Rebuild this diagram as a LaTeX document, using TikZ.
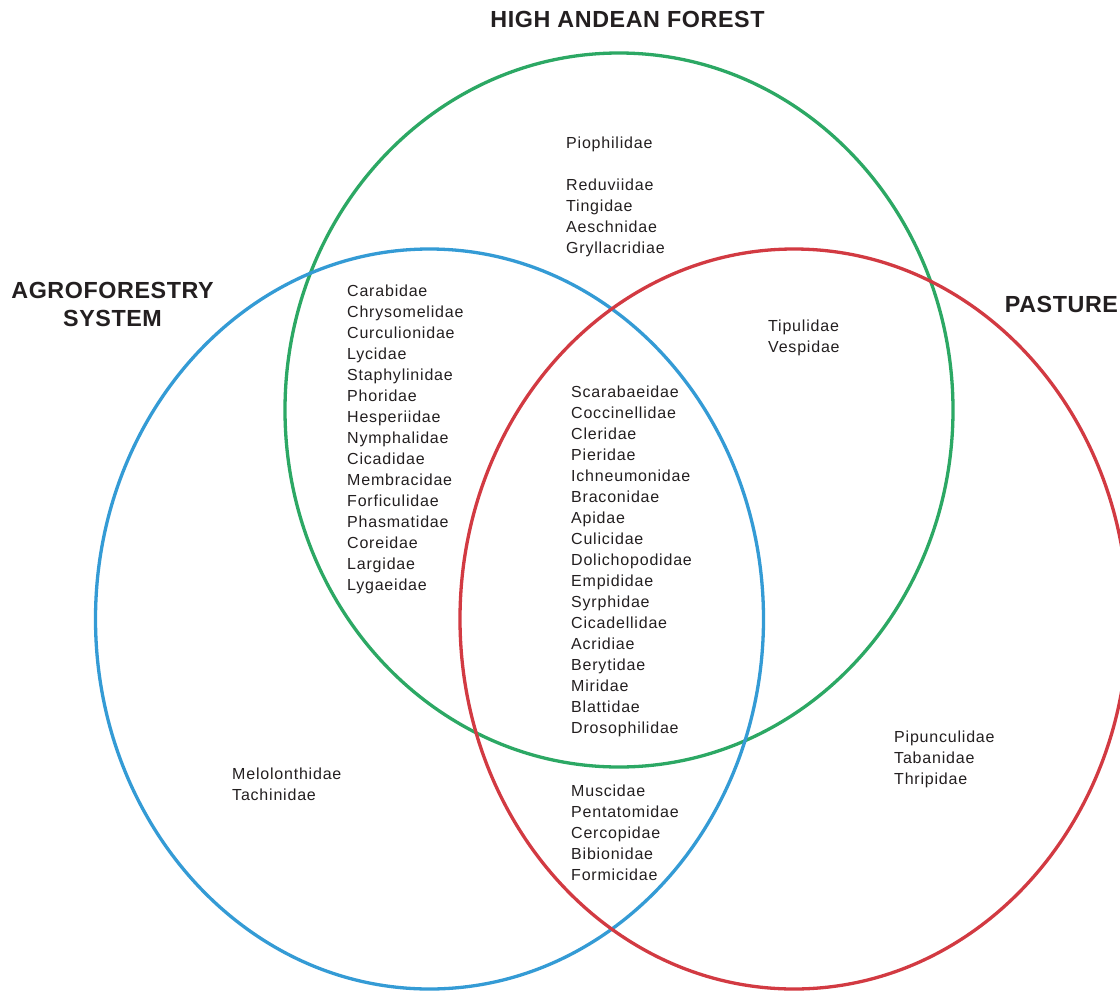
\documentclass[tikz,border=0pt]{standalone}
\usepackage{fontspec}
\setmainfont{Liberation Sans}[LetterSpace=5]
\newfontfamily\titlefont{Liberation Sans}[LetterSpace=2.5]
\definecolor{forestgreen}{RGB}{44,168,100}
\definecolor{agroblue}{RGB}{52,155,213}
\definecolor{pasturered}{RGB}{210,58,66}
\definecolor{inktext}{RGB}{35,31,32}
\tikzset{
  setring/.style={line width=3.3pt},
  famlist/.style={anchor=base west, align=left, inner sep=0pt, text=inktext,
    font=\fontsize{16}{21}\selectfont},
  settitle/.style={anchor=base, align=center, inner sep=0pt, text=inktext,
    font=\titlefont\bfseries\fontsize{23.3}{28}\selectfont},
}
\begin{document}
\begin{tikzpicture}[x=1pt,y=-1pt]
\clip (0,0) rectangle (1120,991);
\fill[white] (0,0) rectangle (1120,991);
% rings
\draw[setring, forestgreen] (619,410) ellipse [x radius=334, y radius=357];
\draw[setring, agroblue] (429.5,619) ellipse [x radius=334, y radius=370];
\draw[setring, pasturered] (794,619) ellipse [x radius=334, y radius=370];
% titles (anchor = baseline of the last line)
\node[settitle] (tforest) at (627.5,27) {HIGH ANDEAN FOREST};
\node[settitle] (tagro) at (112.5,326) {AGROFORESTRY\\SYSTEM};
\node[settitle] (tpasture) at (1061.5,312) {PASTURE};
% family lists (anchor = baseline of the last line)
\node[famlist] (gonly) at (566,253) {Piophilidae\\[21pt]Reduviidae\\Tingidae\\Aeschnidae\\Gryllacridiae};
\node[famlist] (bg) at (347,590) {Carabidae\\Chrysomelidae\\Curculionidae\\Lycidae\\Staphylinidae\\Phoridae\\Hesperiidae\\Nymphalidae\\Cicadidae\\Membracidae\\Forficulidae\\Phasmatidae\\Coreidae\\Largidae\\Lygaeidae};
\node[famlist] (gr) at (768,352) {Tipulidae\\Vespidae};
\node[famlist] (bgr) at (571,733) {Scarabaeidae\\Coccinellidae\\Cleridae\\Pieridae\\Ichneumonidae\\Braconidae\\Apidae\\Culicidae\\Dolichopodidae\\Empididae\\Syrphidae\\Cicadellidae\\Acridiae\\Berytidae\\Miridae\\Blattidae\\Drosophilidae};
\node[famlist] (br) at (571,880) {Muscidae\\Pentatomidae\\Cercopidae\\Bibionidae\\Formicidae};
\node[famlist] (bonly) at (232,800) {Melolonthidae\\Tachinidae};
\node[famlist] (ronly) at (894,784) {Pipunculidae\\Tabanidae\\Thripidae};
\end{tikzpicture}
\end{document}
